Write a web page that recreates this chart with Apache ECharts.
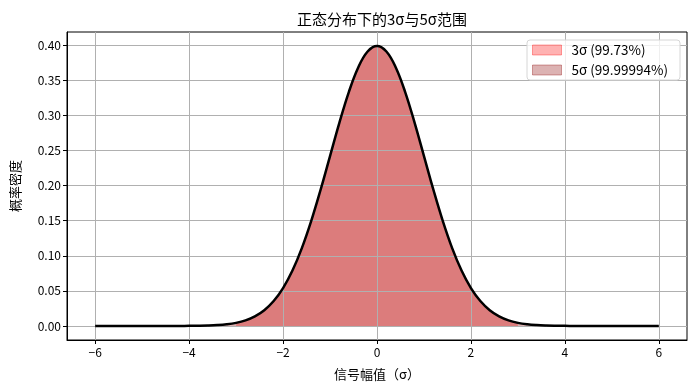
<!DOCTYPE html>
<html><head><meta charset="utf-8">
<script src="https://cdn.jsdelivr.net/npm/echarts@6/dist/echarts.min.js"></script>
<style>html,body{margin:0;padding:0;background:#fff}#c{width:695px;height:390px}</style>
</head><body><div id="c"></div>
<script>
const xValues = [-6.0,-5.8,-5.6,-5.4,-5.2,-5.0,-4.8,-4.6,-4.4,-4.2,-4.0,-3.8,-3.6,-3.4,-3.2,-3.0,-2.8,-2.6,-2.4,-2.2,-2.0,-1.8,-1.6,-1.4,-1.2,-1.0,-0.8,-0.6,-0.4,-0.2,0.0,0.2,0.4,0.6,0.8,1.0,1.2,1.4,1.6,1.8,2.0,2.2,2.4,2.6,2.8,3.0,3.2,3.4,3.6,3.8,4.0,4.2,4.4,4.6,4.8,5.0,5.2,5.4,5.6,5.8,6.0];
const density = [0,0,0,0,0,0,0,0.00001,0.00002,0.00006,0.00013,0.00029,0.00061,0.00123,0.00238,0.00443,0.00792,0.01358,0.02239,0.03547,0.05399,0.07895,0.11092,0.14973,0.19419,0.24197,0.28969,0.33322,0.36827,0.39104,0.39894,0.39104,0.36827,0.33322,0.28969,0.24197,0.19419,0.14973,0.11092,0.07895,0.05399,0.03547,0.02239,0.01358,0.00792,0.00443,0.00238,0.00123,0.00061,0.00029,0.00013,0.00006,0.00002,0.00001,0,0,0,0,0,0,0];
const xTicks = [-6,-4,-2,0,2,4,6];
const yTicks = [0,0.05,0.10,0.15,0.20,0.25,0.30,0.35,0.40];
const band3Name = '3σ (99.73%)';
const band5Name = '5σ (99.99994%)';
const band3Limit = 3;
const band5Limit = 5;

const curve = xValues.map((x,i)=>[x,density[i]]);
const band = lim => curve.filter(p => Math.abs(p[0]) <= lim + 1e-9);
const FONT = '"Noto Sans CJK SC", "DejaVu Sans", sans-serif';

const chart = echarts.init(document.getElementById('c'), null, {renderer:'canvas'});
chart.setOption({
  animation:false,
  backgroundColor:'#fff',
  title:{text:'正态分布下的3σ与5σ范围', left:377, top:7, textAlign:'center',
    textStyle:{fontFamily:FONT, fontSize:15, fontWeight:'normal', color:'#000'}},
  legend:{
    data:[
      {name:band3Name, icon:'rect', itemStyle:{color:'rgba(255,0,0,0.3)', borderColor:'rgba(255,0,0,0.35)', borderWidth:1}},
      {name:band5Name, icon:'rect', itemStyle:{color:'rgba(139,0,0,0.3)', borderColor:'rgba(139,0,0,0.35)', borderWidth:1}}
    ],
    orient:'vertical', right:15, top:40, itemWidth:29, itemHeight:10, itemGap:6,
    padding:[3,12,3,5], borderColor:'#d6d6d6', borderWidth:1, borderRadius:3,
    backgroundColor:'rgba(255,255,255,0.8)',
    textStyle:{fontFamily:FONT, fontSize:13.5, color:'#000', lineHeight:14, padding:[0,0,0,5]}
  },
  grid:{left:67, top:32, width:620, height:308, outerBoundsMode:'none', containLabel:false,
    show:true, borderColor:'#000', borderWidth:1, backgroundColor:'transparent'},
  xAxis:{type:'value', min:-6.6, max:6.6, z:2,
    name:'信号幅值（σ）', nameLocation:'middle', nameGap:28,
    nameTextStyle:{fontFamily:FONT, fontSize:13, color:'#000'},
    axisLine:{show:true, onZero:false, lineStyle:{color:'#000', width:1}},
    axisTick:{show:true, customValues:xTicks, length:4, lineStyle:{color:'#000'}},
    axisLabel:{customValues:xTicks, fontFamily:FONT, fontSize:12, color:'#000', margin:6,
      formatter:v=>String(v).replace('-','−')},
    splitLine:{show:true, lineStyle:{color:'#b0b0b0', width:1}}
  },
  yAxis:{type:'value', min:-0.02, max:0.4188, z:2,
    name:'概率密度', nameLocation:'middle', nameGap:45,
    nameTextStyle:{fontFamily:FONT, fontSize:13, color:'#000'},
    axisLine:{show:true, onZero:false, lineStyle:{color:'#000', width:1}},
    axisTick:{show:true, customValues:yTicks, length:4, lineStyle:{color:'#000'}},
    axisLabel:{customValues:yTicks, fontFamily:FONT, fontSize:12, color:'#000', margin:6,
      formatter:v=>v.toFixed(2)},
    splitLine:{show:true, lineStyle:{color:'#b0b0b0', width:1}}
  },
  series:[
    {name:band3Name, type:'line', data:band(band3Limit), smooth:0.4, symbol:'none', z:1,
      lineStyle:{width:0, color:'rgba(255,0,0,0.3)'}, itemStyle:{color:'rgba(255,0,0,0.3)'},
      areaStyle:{color:'rgba(255,0,0,0.3)', origin:0, opacity:1}},
    {name:band5Name, type:'line', data:band(band5Limit), smooth:0.4, symbol:'none', z:1,
      lineStyle:{width:0, color:'rgba(139,0,0,0.3)'}, itemStyle:{color:'rgba(139,0,0,0.3)'},
      areaStyle:{color:'rgba(139,0,0,0.3)', origin:0, opacity:1}},
    {name:'pdf', type:'line', data:curve, smooth:0.4, symbol:'none', z:3,
      lineStyle:{width:2.5, color:'#000'}}
  ]
});
</script></body></html>
